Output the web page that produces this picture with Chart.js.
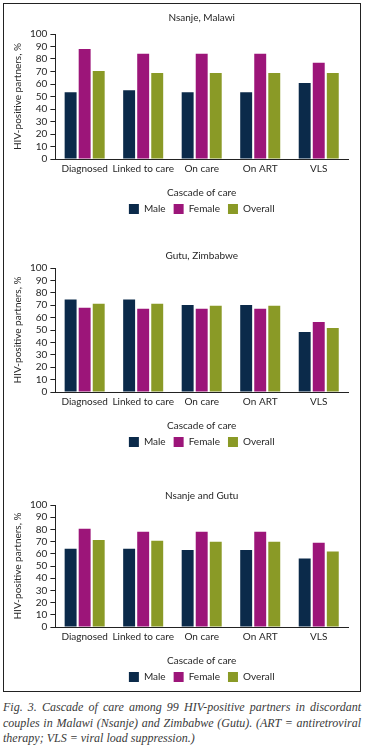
<!DOCTYPE html>
<html>
<head>
<meta charset="utf-8">
<script src="https://cdn.jsdelivr.net/npm/chart.js@4"></script>
<style>
  body { margin: 0; background: #fff; width: 367px; height: 755px; position: relative; overflow: hidden; }
  #frame { position: absolute; left: 3px; top: 3px; width: 356px; height: 687px; border: 1px solid #222; }
  canvas { position: absolute; left: 4px; }
  #caption { position: absolute; left: 3px; top: 700px; width: 358px; font: italic 12px "Liberation Serif", serif; line-height: 15.5px; color: #3a3a3a; }
  #caption span { display: block; white-space: nowrap; text-align: justify; text-align-last: justify; }
  #caption span.last { text-align-last: left; }
</style>
</head>
<body>
<div id="frame"></div>
<canvas id="c1" width="356" height="216" style="top:8px"></canvas>
<canvas id="c2" width="356" height="211" style="top:246px"></canvas>
<canvas id="c3" width="356" height="206" style="top:486px"></canvas>
<div id="caption">
  <span>Fig. 3. Cascade of care among 99 HIV-positive partners in discordant</span>
  <span>couples in Malawi (Nsanje) and Zimbabwe (Gutu). (ART = antiretroviral</span>
  <span class="last">therapy; VLS = viral load suppression.)</span>
</div>
<script>
// categories and series
const categories = ["Diagnosed", "Linked to care", "On care", "On ART", "VLS"];
const seriesNames = ["Male", "Female", "Overall"];
const seriesColors = ["#0b2a4a", "#9c1579", "#8a9a26"];

// Nsanje, Malawi
const nsanjeMale = [53.5, 55.1, 53.5, 53.5, 60.8];
const nsanjeFemale = [88.1, 84.3, 84.3, 84.3, 77.0];
const nsanjeOverall = [70.5, 68.9, 68.9, 68.9, 68.9];

// Gutu, Zimbabwe
const gutuMale = [74.5, 74.5, 70.1, 70.1, 48.4];
const gutuFemale = [67.9, 67.1, 67.1, 67.1, 56.5];
const gutuOverall = [71.2, 71.2, 69.6, 69.6, 51.6];

// Nsanje and Gutu
const bothMale = [64.2, 64.2, 63.1, 63.1, 56.1];
const bothFemale = [80.5, 78.0, 78.0, 78.0, 69.1];
const bothOverall = [71.3, 70.7, 69.9, 69.9, 61.8];

const FONT = "Lato, 'Liberation Sans', sans-serif";
const FS = 10;
const TEXT = "#262626";
const AXIS = "#222";

function makeChart(id, title, male, female, overall, titleGap) {
  const vals = [male, female, overall];
  new Chart(document.getElementById(id).getContext("2d"), {
    type: "bar",
    data: {
      labels: categories,
      datasets: seriesNames.map((name, i) => ({
        label: name,
        data: vals[i],
        backgroundColor: seriesColors[i],
        borderWidth: 0,
        categoryPercentage: 0.72,
        barPercentage: 0.85,
      })),
    },
    options: {
      responsive: false,
      animation: false,
      devicePixelRatio: 1,
      layout: { padding: { left: 0, right: 12, top: 0, bottom: 0 } },
      font: { family: FONT, size: FS },
      color: TEXT,
      plugins: {
        title: {
          display: true,
          text: title,
          fullSize: false,
          color: TEXT,
          font: { family: FONT, size: FS, weight: "normal" },
          padding: { top: 4, bottom: titleGap },
        },
        legend: {
          position: "bottom",
          fullSize: false,
          labels: {
            boxWidth: 10,
            boxHeight: 10,
            padding: 8,
            color: TEXT,
            font: { family: FONT, size: FS },
          },
        },
        tooltip: { enabled: false },
      },
      scales: {
        x: {
          grid: { display: false, drawTicks: false },
          border: { display: true, color: AXIS, width: 1 },
          ticks: { color: TEXT, padding: 4, maxRotation: 0, autoSkip: false, font: { family: FONT, size: FS } },
          title: {
            display: true,
            text: "Cascade of care",
            color: TEXT,
            font: { family: FONT, size: FS },
            padding: { top: 8, bottom: -3 },
          },
        },
        y: {
          min: 0,
          max: 100,
          grid: { display: true, drawOnChartArea: false, drawTicks: true, tickLength: 5, color: AXIS },
          border: { display: true, color: AXIS, width: 1 },
          ticks: { stepSize: 10, autoSkip: false, color: TEXT, padding: 3, font: { family: FONT, size: FS } },
          title: {
            display: true,
            text: "HIV-positive partners, %",
            color: TEXT,
            font: { family: FONT, size: FS },
            padding: { top: 8, bottom: 3 },
          },
        },
      },
    },
  });
}

makeChart("c1", "Nsanje, Malawi", nsanjeMale, nsanjeFemale, nsanjeOverall, 10);
makeChart("c2", "Gutu, Zimbabwe", gutuMale, gutuFemale, gutuOverall, 6);
makeChart("c3", "Nsanje and Gutu", bothMale, bothFemale, bothOverall, 3);
</script>
</body>
</html>
